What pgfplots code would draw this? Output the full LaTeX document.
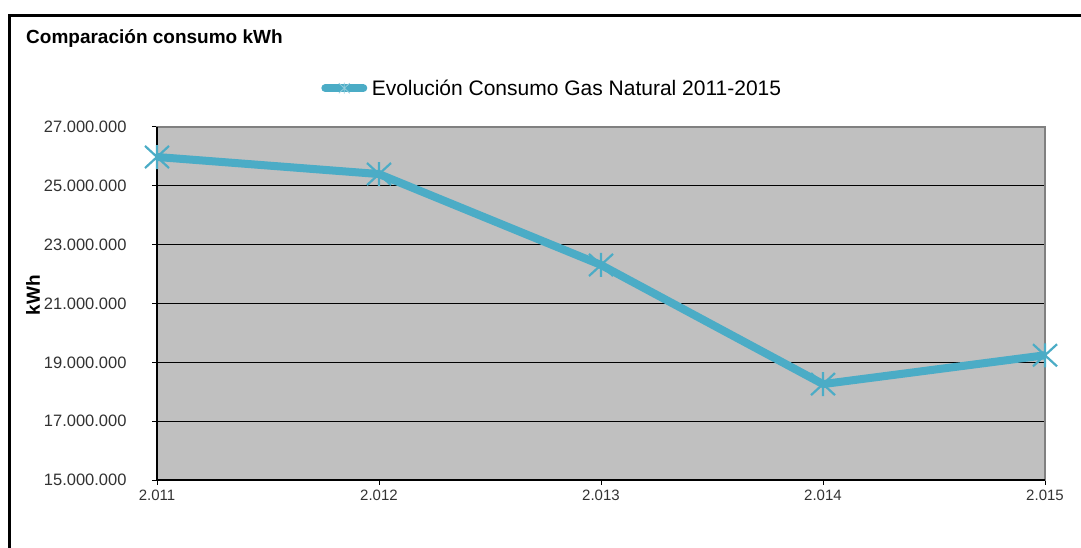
\documentclass[border=0pt]{standalone}
\usepackage{pgfplots}
\pgfplotsset{compat=1.18}
\usepackage{fontspec}
\setmainfont{Liberation Sans}
\definecolor{plotbg}{RGB}{192,192,192}
\definecolor{linecol}{RGB}{75,172,198}
\definecolor{ticktxt}{RGB}{50,50,50}
\pgfdeclareplotmark{excelstar}{%
  \pgfpathmoveto{\pgfqpoint{0pt}{\pgfplotmarksize}}%
  \pgfpathlineto{\pgfqpoint{0pt}{-\pgfplotmarksize}}%
  \pgfpathmoveto{\pgfqpoint{-\pgfplotmarksize}{0.92\pgfplotmarksize}}%
  \pgfpathlineto{\pgfqpoint{\pgfplotmarksize}{-0.92\pgfplotmarksize}}%
  \pgfpathmoveto{\pgfqpoint{-\pgfplotmarksize}{-0.92\pgfplotmarksize}}%
  \pgfpathlineto{\pgfqpoint{\pgfplotmarksize}{0.92\pgfplotmarksize}}%
  \pgfusepathqstroke}
\begin{document}
\begin{tikzpicture}
\path[use as bounding box] (0,0) rectangle (1081bp,548bp);
% outer frame (top and left visible)
\draw[line width=2.8bp, black] (9.5bp,0bp) -- (9.5bp,532.7bp) -- (1081bp,532.7bp);
\node[anchor=base west, inner sep=0pt, font=\fontsize{19bp}{22bp}\selectfont\bfseries] at (26bp,504bp) {Comparación consumo kWh};
\begin{axis}[
  at={(157bp,68bp)}, anchor=south west,
  scale only axis, width=888bp, height=353bp,
  xmin=2011, xmax=2015, ymin=15000000, ymax=27000000,
  xtick={2011,2012,2013,2014,2015},
  xticklabels={2.011,2.012,2.013,2.014,2.015},
  ytick={15000000,17000000,19000000,21000000,23000000,25000000,27000000},
  scaled y ticks=false,
  /pgf/number format/.cd, fixed, 1000 sep={.}, assume math mode=true,
  /pgfplots/.cd,
  yticklabel style={font=\fontsize{16.5bp}{19bp}\selectfont, text=ticktxt, xshift=-22bp},
  xticklabel style={font=\fontsize{15bp}{17bp}\selectfont, text=ticktxt, yshift=-2bp},
  tick align=outside, tick pos=left,
  major tick length=5bp,
  tick style={black, line width=1bp},
  axis line style={draw=black!50, line width=1.2bp},
  axis background/.style={fill=plotbg},
  ymajorgrids, major grid style={black, line width=1bp},
  ylabel={kWh},
  ylabel style={at={(axis description cs:-0.1396,0.524)}, anchor=center, font=\fontsize{19bp}{22bp}\selectfont\bfseries},
  clip=false,
  legend style={at={(axis description cs:0.1803,1.110)}, anchor=west, draw=none, fill=none,
    inner xsep=0pt, inner ysep=0pt, nodes={inner sep=0.5bp}, font=\fontsize{21bp}{24bp}\selectfont},
  legend cell align=left,
  legend image code/.code={
    \path (0bp,0bp) (46bp,0bp);
    \draw[#1, mark=none, line cap=round] (4bp,0bp) -- (42bp,0bp);
    \draw[#1, mark=excelstar, mark size=5.5bp, mark options={line width=0.8bp, draw=linecol!60!white}] plot coordinates {(23bp,0bp)};
  },
]
\addplot[color=linecol, line width=8bp, line join=round, mark=excelstar, mark size=12bp, mark options={line width=2.2bp, solid}]
  coordinates {(2011,25980000) (2012,25400000) (2013,22310000) (2014,18260000) (2015,19240000)};
\addlegendentry{Evolución Consumo Gas Natural 2011-2015}
\draw[black, line width=1.2bp] (rel axis cs:0,1) -- (rel axis cs:0,0) -- (rel axis cs:1,0);
\end{axis}
\end{tikzpicture}
\end{document}
